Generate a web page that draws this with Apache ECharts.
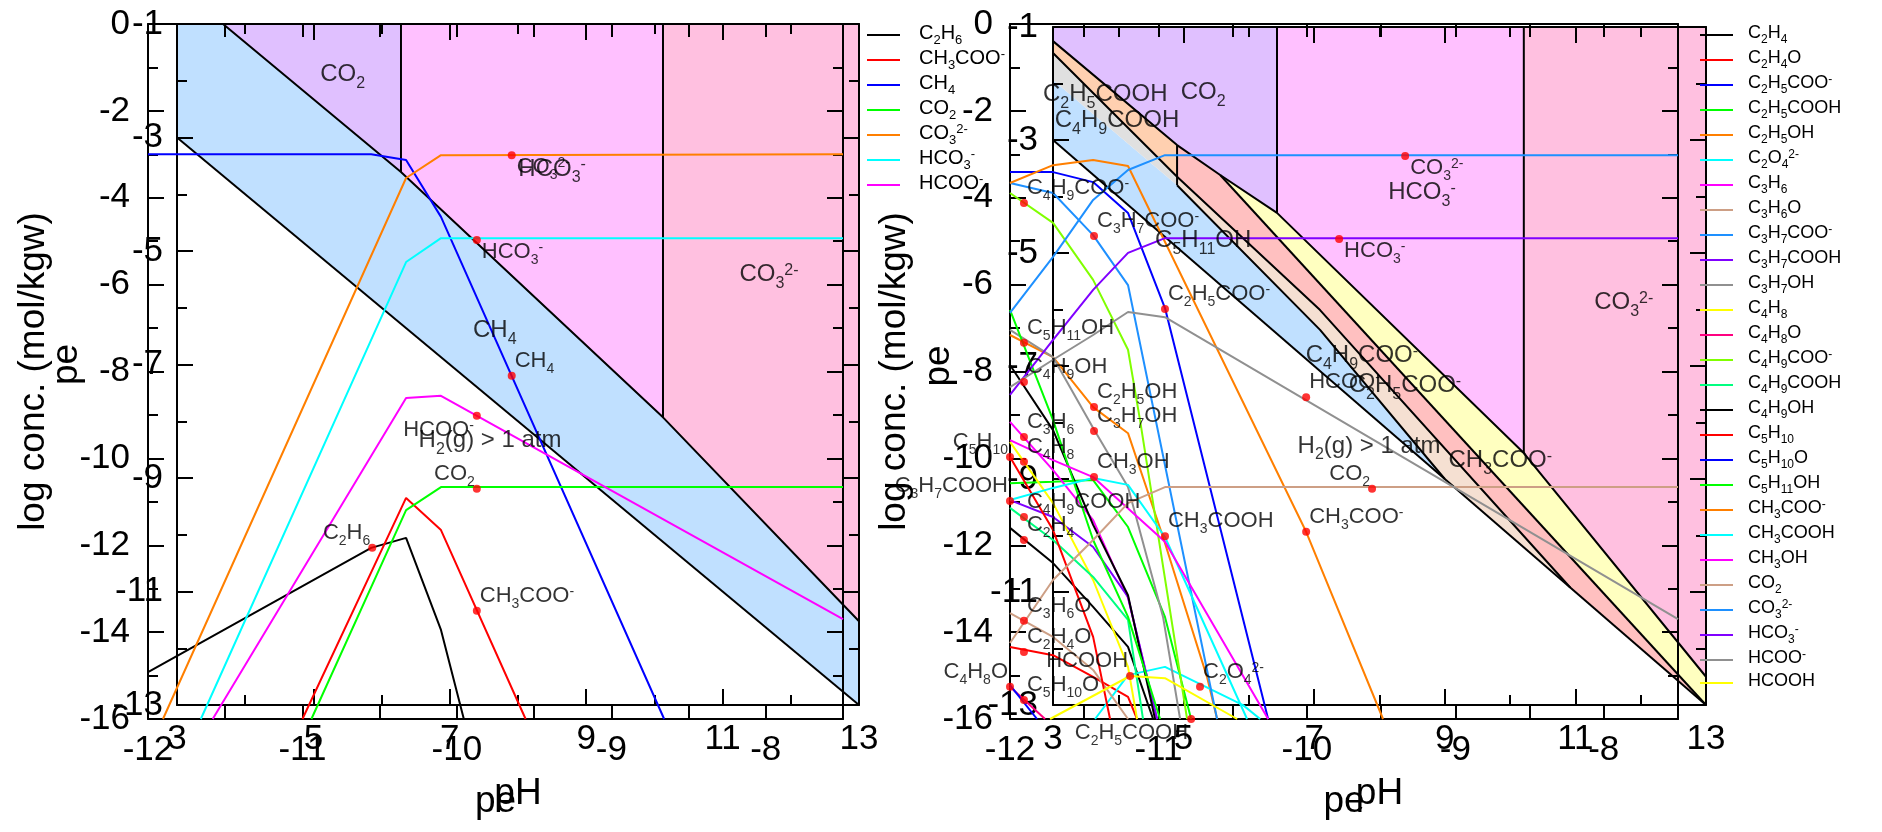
<!DOCTYPE html>
<html>
<head>
<meta charset="utf-8">
<script src="https://cdn.jsdelivr.net/npm/echarts@6.0.0/dist/echarts.min.js"></script>
<style>
html, body { margin: 0; padding: 0; background: #fff; }
#chart { width: 1882px; height: 832px; }
</style>
</head>
<body>
<div id="chart"></div>
<script>
// ---- left panel: concentration vs pe  [pe, log conc] ----
var leftC2H6   = [[-12,-14.92],[-10.555,-12.06],[-10.329,-11.83],[-10.103,-13.95],[-9.955,-16]];
var leftCH3COO = [[-11.0,-16],[-10.329,-10.91],[-10.103,-11.65],[-9.555,-16]];
var leftCH4    = [[-12,-3.0],[-10.555,-3.0],[-10.329,-3.13],[-10.103,-4.44],[-8.658,-16]];
var leftCO2    = [[-10.942,-16],[-10.329,-11.19],[-10.103,-10.66],[-7.5,-10.66]];
var leftCO3    = [[-11.903,-16],[-10.329,-3.545],[-10.103,-3.02],[-7.5,-3.0]];
var leftHCO3   = [[-11.658,-16],[-10.329,-5.48],[-10.103,-4.93],[-7.5,-4.93]];
var leftHCOO   = [[-11.581,-16],[-10.329,-8.61],[-10.103,-8.56],[-7.5,-13.70]];
var leftNames  = ['C_2H_6','CH_3COO^-','CH_4','CO_2','CO_3^2-','HCO_3^-','HCOO^-'];

// point labels on the left concentration plot [name, pe, log conc]
var leftTags = [
  ['CO_3^2-', -9.645, -3.02], ['HCO_3^-', -9.871, -4.97], ['CH_4', -9.645, -8.10],
  ['HCOO^-', -9.871, -9.02], ['CO_2', -9.871, -10.70], ['CH_3COO^-', -9.871, -13.51],
  ['C_2H_6', -10.548, -12.06]
];
var leftTagPlace = ['br','br','ur','bl','ul','ur','ul'];

// ---- left panel: predominance fields [pH, pe] ----
var lpCO2  = [[3.675,-1],[6.284,-1],[6.284,-3.609]];
var lpHCO3 = [[6.284,-1],[10.126,-1],[10.126,-7.931],[6.284,-3.609]];
var lpCO3  = [[10.126,-1],[13,-1],[13,-11.524],[10.126,-7.931]];
var lpCH4  = [[3,-1],[3.675,-1],[6.284,-3.609],[10.126,-7.931],[13,-11.524],[13,-13],[3,-3]];
var lpEdgeUpper = [[3.675,-1],[6.284,-3.609],[10.126,-7.931],[13,-11.524]];
var lpEdgeH2    = [[3,-3],[13,-13]];
var lpEdgeV1    = [[6.284,-1],[6.284,-3.609]];
var lpEdgeV2    = [[10.126,-1],[10.126,-7.931]];
var lpLabels = [
  ['CO_2', 5.43, -1.93], ['HCO_3^-', 8.5, -3.6], ['CO_3^2-', 11.68, -5.46],
  ['CH_4', 7.66, -6.44], ['H_2(g) > 1 atm', 7.59, -8.38]
];

// ---- right panel: concentration vs pe ----
var rC2H4     = [[-12,-11.60],[-11.71,-12.41],[-11.44,-13.42],[-11.205,-14.34],[-11.036,-16]];
var rC2H4O    = [[-12,-14.34],[-11.71,-14.53],[-11.44,-15.03],[-11.205,-15.49],[-11.144,-16]];
var rC2H5COOm = [[-12,-3.41],[-11.71,-3.41],[-11.44,-3.64],[-11.205,-4.35],[-10.956,-6.54],[-10.261,-16]];
var rC2H5COOH = [[-12,-10.57],[-11.71,-10.54],[-11.44,-10.50],[-11.205,-11.58],[-10.956,-13.65],[-10.78,-16]];
var rC2H5OH   = [[-12,-7.16],[-11.71,-7.67],[-11.44,-8.82],[-11.205,-9.42],[-10.969,-11.81],[-10.673,-15.03],[-10.605,-16]];
var rC2O4     = [[-11.427,-16],[-11.205,-14.99],[-10.956,-14.80],[-10.43,-15.68],[-10.315,-16]];
var rC3H6     = [[-12,-9.16],[-11.71,-10.27],[-11.44,-11.42],[-11.205,-13.21],[-11.009,-16]];
var rC3H6O    = [[-12,-13.56],[-11.71,-14.11],[-11.44,-14.87],[-11.205,-16]];
var rC3H7COOm = [[-12,-3.66],[-11.71,-3.89],[-11.44,-4.86],[-11.205,-6.01],[-10.605,-16]];
var rC3H7COOH = [[-12,-10.96],[-11.71,-11.35],[-11.44,-12.04],[-11.205,-13.19],[-11.009,-16]];
var rC3H7OH   = [[-12,-7.04],[-11.71,-7.67],[-11.44,-9.30],[-11.205,-10.66],[-10.969,-13.65],[-10.854,-16]];
var rC4H8     = [[-12,-9.62],[-11.71,-11.03],[-11.44,-12.80],[-11.205,-14.80],[-11.144,-16]];
var rC4H8O    = [[-12,-15.26],[-11.764,-16]];
var rC4H9COOm = [[-12,-3.89],[-11.71,-4.58],[-11.44,-5.89],[-11.205,-7.50],[-11.124,-9.12],[-10.807,-16]];
var rC4H9COOH = [[-12,-11.14],[-11.71,-11.88],[-11.44,-12.73],[-11.205,-13.72],[-11.104,-16]];
var rC4H9OH   = [[-12,-7.85],[-11.71,-9.35],[-11.44,-11.53],[-11.205,-13.15],[-11.023,-16]];
var rC5H10    = [[-12,-9.97],[-11.71,-11.65],[-11.44,-14.11],[-11.326,-16]];
var rC5H10O   = [[-12,-15.22],[-11.818,-16]];
var rC5H11OH  = [[-12,-6.58],[-11.71,-9.12],[-11.44,-11.88],[-11.205,-13.65],[-10.989,-16]];
var rCH3COOm  = [[-12,-3.66],[-11.71,-3.25],[-11.44,-3.13],[-11.205,-3.27],[-10.005,-11.69],[-9.487,-16]];
var rCH3COOH  = [[-12,-10.96],[-11.71,-10.68],[-11.44,-10.45],[-11.205,-10.61],[-10.956,-11.81],[-10.403,-16]];
var rCH3OH    = [[-12,-9.58],[-11.71,-10.04],[-11.44,-10.43],[-10.956,-11.92],[-10.261,-16]];
var rCO2      = [[-12,-14.25],[-11.71,-12.80],[-11.44,-11.88],[-11.205,-11.03],[-10.956,-10.66],[-7.5,-10.66]];
var rCO3      = [[-12,-6.65],[-11.71,-5.36],[-11.44,-4.05],[-11.205,-3.36],[-10.956,-3.02],[-7.5,-3.02]];
var rHCO3     = [[-12,-8.54],[-11.71,-7.27],[-11.44,-6.12],[-11.205,-5.27],[-10.956,-4.93],[-7.5,-4.93]];
var rHCOOm    = [[-12,-8.36],[-11.71,-7.73],[-11.44,-7.16],[-11.205,-6.63],[-10.956,-6.75],[-7.5,-13.70]];
var rHCOOH    = [[-11.73,-16],[-11.191,-15.01],[-10.956,-15.06],[-10.47,-16]];
var rightNames = ['C_2H_4','C_2H_4O','C_2H_5COO^-','C_2H_5COOH','C_2H_5OH','C_2O_4^2-','C_3H_6','C_3H_6O',
  'C_3H_7COO^-','C_3H_7COOH','C_3H_7OH','C_4H_8','C_4H_8O','C_4H_9COO^-','C_4H_9COOH','C_4H_9OH',
  'C_5H_10','C_5H_10O','C_5H_11OH','CH_3COO^-','CH_3COOH','CH_3OH','CO_2','CO_3^2-','HCO_3^-','HCOO^-','HCOOH'];

var rightTags = [
  ['C_4H_9COO^-', -11.906, -4.12], ['C_3H_7COO^-', -11.434, -4.88], ['C_2H_5COO^-', -10.956, -6.56],
  ['C_5H_11OH', -11.906, -7.34], ['C_4H_9OH', -11.906, -8.24], ['C_2H_5OH', -11.434, -8.82],
  ['C_3H_7OH', -11.434, -9.37], ['C_3H_6', -11.906, -9.51], ['C_5H_10', -12, -9.97],
  ['C_4H_8', -11.906, -10.08], ['CH_3OH', -11.434, -10.43], ['C_3H_7COOH', -12, -10.98],
  ['C_4H_9COOH', -11.906, -11.35], ['C_2H_4', -11.906, -11.88], ['CH_3COOH', -10.956, -11.79],
  ['C_3H_6O', -11.906, -13.74], ['C_2H_4O', -11.906, -14.46], ['HCOOH', -11.191, -15.01],
  ['C_4H_8O', -12, -15.26], ['C_5H_10O', -11.906, -15.56], ['C_2O_4^2-', -10.72, -15.26],
  ['C_2H_5COOH', -10.78, -16.0], ['CO_3^2-', -9.338, -3.04], ['HCO_3^-', -9.783, -4.95],
  ['HCOO^-', -10.005, -8.59], ['CH_3COO^-', -10.005, -11.69], ['CO_2', -9.561, -10.70]
];
var rightTagPlace = ['ur','ur','ur','ur','ur','ur','ur','ur','ul','ur','ur','ul','ur','ur','ur',
  'ur','ur','ul','ul','ur','ur','bl','br','br','ur','ur','ul'];

// ---- right panel: predominance fields [pH, pe] ----
var rpCO2      = [[3,-1],[6.43,-1],[6.43,-4.29],[5.56,-3.62],[4.9,-3.09],[3,-1.25]];
var rpHCO3     = [[6.43,-1],[10.21,-1],[10.21,-8.54],[6.43,-4.29]];
var rpCO3      = [[10.21,-1],[13,-1],[13,-12.5],[10.21,-8.54]];
var rpC2H5COOH = [[3,-1.25],[4.9,-3.09],[4.9,-3.65],[3,-1.46]];
var rpC4H9COOH = [[3,-1.46],[4.9,-3.65],[4.9,-3.80],[3,-1.94]];
var rpC5H11OH  = [[3,-1.94],[4.9,-3.80],[7.09,-6.36],[9.0,-9.0],[3,-3]];
var rpCH3COO   = [[5.56,-3.62],[6.43,-4.29],[10.21,-8.54],[13,-12.5],[13,-13]];
var rpC2H5COO  = [[4.9,-3.09],[5.56,-3.62],[13,-13],[10.92,-10.92],[7.09,-6.01],[4.9,-3.65]];
var rpC4H9COO  = [[4.9,-3.65],[7.09,-6.01],[10.92,-10.92],[9.0,-9.0],[7.09,-6.36],[4.9,-3.80]];
var rpEdges = [
  [[3,-1.25],[4.9,-3.09],[5.56,-3.62],[6.43,-4.29],[10.21,-8.54],[13,-12.5]],
  [[3,-1.46],[4.9,-3.65],[7.09,-6.01],[10.92,-10.92]],
  [[5.56,-3.62],[13,-13]],
  [[4.9,-3.80],[7.09,-6.36],[9.0,-9.0]],
  [[3,-3],[13,-13]],
  [[4.9,-3.09],[4.9,-3.80]],
  [[6.43,-1],[6.43,-4.29]],
  [[10.21,-1],[10.21,-8.54]]
];
var rpLabels = [
  ['C_2H_5COOH', 3.80, -2.24], ['CO_2', 5.30, -2.20], ['C_4H_9COOH', 3.98, -2.70],
  ['C_5H_11OH', 5.30, -4.82], ['HCO_3^-', 8.65, -3.97], ['CO_3^2-', 11.74, -5.92],
  ['C_4H_9COO^-', 7.73, -6.86], ['C_2H_5COO^-', 8.39, -7.39], ['H_2(g) > 1 atm', 7.84, -8.46],
  ['CH_3COO^-', 9.85, -8.72]
];

// ---------------------------------------------------------------------------
var FONT = "'Liberation Sans', Arial, sans-serif";
var palette = ['#000000','#ff0000','#0000ff','#00ff00','#ff7f00','#00ffff','#ff00ff','#cd9f85',
  '#1e90ff','#8000ff','#909090','#ffff00','#ff0080','#80ff00','#00ff80'];
var ZW = '\u200b';  // keeps right-panel legend names apart from left ones

function chem(s) {
  var out = '';
  s.replace(ZW, '').replace(/_(\d+)|\^(.+)$|([^_^]+)/g, function (m, sub, sup, txt) {
    if (sub) out += '{s|' + sub + '}';
    else if (sup) out += '{p|' + sup + '}';
    else out += '{n|' + txt + '}';
    return m;
  });
  return out;
}
function rich(f, extra) {
  var s = Math.round(f * 0.65), L = Math.round(f * 1.2);
  var r = {
    n: {fontSize: f, lineHeight: L, verticalAlign: 'top', fontFamily: FONT, color: '#000'},
    s: {fontSize: s, lineHeight: s, verticalAlign: 'bottom', fontFamily: FONT, color: '#000'},
    p: {fontSize: s, lineHeight: s, verticalAlign: 'top', fontFamily: FONT, color: '#000'}
  };
  for (var k in extra) r[k] = extra[k];
  return r;
}

function axis(grid, min, max, interval, opt) {
  var a = {
    type: 'value', gridIndex: grid, min: min, max: max, interval: interval, z: 3,
    position: opt.pos,
    axisLine: {show: true, onZero: false, lineStyle: {color: '#000', width: 2}},
    axisTick: {show: true, inside: true, length: opt.tick || 16, lineStyle: {color: '#000', width: 2}},
    minorTick: {show: !!opt.minor, splitNumber: 2, length: 10, lineStyle: {color: '#000', width: 2}},
    splitLine: {show: false},
    axisLabel: {show: !!opt.label, fontSize: 35, color: '#000', fontFamily: FONT,
      margin: opt.margin || 16, showMinLabel: true, showMaxLabel: true,
      formatter: opt.fmt || function (v) { return String(v); }}
  };
  if (opt.name) {
    a.name = opt.name; a.nameLocation = 'middle'; a.nameGap = opt.gap;
    a.nameTextStyle = {fontSize: 37, fontFamily: FONT, color: '#000'};
  }
  return a;
}
var intOnly = function (v) { return Number.isInteger(v) ? String(v) : ''; };

var xAxes = [
  axis(0, 3, 13, 2, {pos: 'bottom', minor: true, label: true, margin: 17, name: 'pH', gap: 70}),
  axis(0, 3, 13, 2, {pos: 'top', minor: true}),
  axis(1, -12, -7.5, 0.5, {pos: 'bottom', label: true, margin: 14, fmt: intOnly, tick: 13, name: 'pe', gap: 64}),
  axis(1, -12, -7.5, 0.5, {pos: 'top', tick: 13}),
  axis(2, 3, 13, 2, {pos: 'bottom', minor: true, label: true, margin: 17, name: 'pH', gap: 70}),
  axis(2, 3, 13, 2, {pos: 'top', minor: true}),
  axis(3, -12, -7.5, 0.5, {pos: 'bottom', label: true, margin: 14, fmt: intOnly, tick: 13, name: 'pe', gap: 64}),
  axis(3, -12, -7.5, 0.5, {pos: 'top', tick: 13})
];
var yAxes = [
  axis(0, -13, -1, 2, {pos: 'left', minor: true, label: true, margin: 14, name: 'pe', gap: 92}),
  axis(0, -13, -1, 2, {pos: 'right', minor: true}),
  axis(1, -16, 0, 2, {pos: 'left', minor: true, label: true, margin: 18, name: 'log conc. (mol/kgw)', gap: 96}),
  axis(1, -16, 0, 2, {pos: 'right', minor: true}),
  axis(2, -13, -1, 2, {pos: 'left', minor: true, label: true, margin: 15, name: 'pe', gap: 96}),
  axis(2, -13, -1, 2, {pos: 'right', minor: true}),
  axis(3, -16, 0, 2, {pos: 'left', minor: true, label: true, margin: 17, name: 'log conc. (mol/kgw)', gap: 97}),
  axis(3, -16, 0, 2, {pos: 'right', minor: true})
];

var series = [];
function region(poly, color, xi, yi) {
  series.push({
    type: 'custom', xAxisIndex: xi, yAxisIndex: yi, z: 1, silent: true, clip: true,
    data: [poly[0]],
    renderItem: function (params, api) {
      return {type: 'polygon', shape: {points: poly.map(function (p) { return api.coord(p); })},
        style: {fill: color}};
    }
  });
}
function edge(pts, xi, yi) {
  series.push({type: 'line', xAxisIndex: xi, yAxisIndex: yi, z: 2, silent: true, data: pts,
    showSymbol: false, lineStyle: {color: '#000', width: 2}, animation: false});
}
function conc(name, pts, color, xi, yi) {
  series.push({type: 'line', name: name, xAxisIndex: xi, yAxisIndex: yi, z: 4, data: pts,
    showSymbol: false, clip: true, lineStyle: {color: color, width: 2}, itemStyle: {color: color},
    animation: false});
}
var place = {
  ur: {align: 'left', offset: [3, -13]},
  br: {align: 'left', offset: [5, 14]},
  ul: {align: 'right', offset: [-2, -13]},
  bl: {align: 'right', offset: [-3, 16]}
};
function tags(list, where, xi, yi) {
  series.push({
    type: 'scatter', xAxisIndex: xi, yAxisIndex: yi, z: 6, silent: true, symbolSize: 8,
    itemStyle: {color: '#ff0000'}, animation: false,
    data: list.map(function (t, i) {
      var p = place[where[i]];
      return {name: t[0], value: [t[1], t[2]],
        label: {show: true, position: 'inside', align: p.align, verticalAlign: 'middle', offset: p.offset,
          formatter: chem(t[0]), rich: rich(22)}};
    })
  });
}
function fieldLabels(list, xi, yi) {
  series.push({
    type: 'scatter', xAxisIndex: xi, yAxisIndex: yi, z: 5, silent: true, symbolSize: 0,
    animation: false,
    data: list.map(function (t) {
      return {name: t[0], value: [t[1], t[2]],
        label: {show: true, position: 'inside', align: 'center', verticalAlign: 'middle',
          formatter: chem(t[0]), rich: rich(24)}};
    })
  });
}

// left panel
region(lpCH4, '#c0e0ff', 0, 0);
region(lpCO2, '#e0c0ff', 0, 0);
region(lpHCO3, '#ffc0ff', 0, 0);
region(lpCO3, '#ffc0e0', 0, 0);
[lpEdgeUpper, lpEdgeH2, lpEdgeV1, lpEdgeV2].forEach(function (e) { edge(e, 0, 0); });
fieldLabels(lpLabels, 0, 0);
[leftC2H6, leftCH3COO, leftCH4, leftCO2, leftCO3, leftHCO3, leftHCOO].forEach(function (d, i) {
  conc(leftNames[i], d, palette[i], 2, 2);
});
tags(leftTags, leftTagPlace, 2, 2);

// right panel
region(rpC5H11OH, '#c0e0ff', 4, 4);
region(rpC4H9COO, '#f5e0d2', 4, 4);
region(rpC2H5COO, '#ffc0c0', 4, 4);
region(rpCH3COO, '#ffffc0', 4, 4);
region(rpC4H9COOH, '#e0e0e0', 4, 4);
region(rpC2H5COOH, '#ffd0b0', 4, 4);
region(rpCO2, '#e0c0ff', 4, 4);
region(rpHCO3, '#ffc0ff', 4, 4);
region(rpCO3, '#ffc0e0', 4, 4);
rpEdges.forEach(function (e) { edge(e, 4, 4); });
fieldLabels(rpLabels, 4, 4);
[rC2H4, rC2H4O, rC2H5COOm, rC2H5COOH, rC2H5OH, rC2O4, rC3H6, rC3H6O, rC3H7COOm, rC3H7COOH, rC3H7OH,
 rC4H8, rC4H8O, rC4H9COOm, rC4H9COOH, rC4H9OH, rC5H10, rC5H10O, rC5H11OH, rCH3COOm, rCH3COOH,
 rCH3OH, rCO2, rCO3, rHCO3, rHCOOm, rHCOOH].forEach(function (d, i) {
  conc(rightNames[i] + ZW, d, palette[i % 15], 6, 6);
});
tags(rightTags, rightTagPlace, 6, 6);

function legend(names, left, f, gapW, itemGap) {
  return {
    show: true, orient: 'vertical', left: left, top: 35 - Math.round(f * 1.2) / 2, padding: 0,
    itemGap: itemGap, itemWidth: 33, itemHeight: 2, icon: 'rect', selectedMode: false,
    data: names,
    formatter: function (n) { return '{g| }' + chem(n); },
    textStyle: {rich: rich(f, {g: {width: gapW, fontSize: f, lineHeight: Math.round(f * 1.2)}})}
  };
}

var chart = echarts.init(document.getElementById('chart'), null, {renderer: 'canvas'});
chart.setOption({
  animation: false,
  backgroundColor: '#ffffff',
  grid: [
    {left: 177, top: 24, width: 682, height: 681},
    {left: 148, top: 24, width: 695, height: 695},
    {left: 1053, top: 27, width: 653, height: 678},
    {left: 1010, top: 24, width: 668, height: 695}
  ],
  xAxis: xAxes,
  yAxis: yAxes,
  legend: [
    legend(leftNames, 867, 20, 14, 1),
    legend(rightNames.map(function (n) { return n + ZW; }), 1700, 18, 10, 3)
  ],
  series: series
});
</script>
</body>
</html>
